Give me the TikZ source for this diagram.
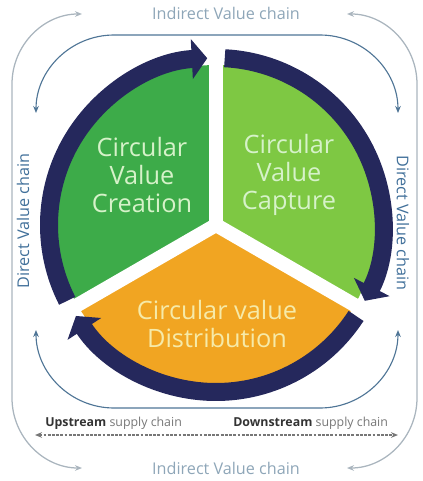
\documentclass[tikz,border=0pt]{standalone}
\usepackage{fontspec}
\setmainfont{Open Sans}
\usetikzlibrary{arrows.meta}

\definecolor{creategreen}{HTML}{3DAB49}
\definecolor{capturegreen}{HTML}{7EC843}
\definecolor{distorange}{HTML}{F1A522}
\definecolor{ringblue}{HTML}{25285C}
\definecolor{paletext}{HTML}{D6F2C9}
\definecolor{paleyellow}{HTML}{F6EAA8}
\definecolor{indirectgray}{HTML}{8EA6B8}
\definecolor{directblue}{HTML}{41709A}
\definecolor{chainline}{HTML}{4F7596}
\definecolor{framegray}{HTML}{AAB5BE}
\definecolor{supplygray}{HTML}{777777}

\begin{document}
\begin{tikzpicture}[x=0.025cm, y=0.025cm,
		ringarrow/.style={draw=ringblue, line width=12.8pt, -{Triangle[width=28pt, length=11pt]}},
		sep/.style={draw=white, line width=10pt},
		secttext/.style={text=paletext, align=center, inner sep=0, font=\fontsize{18}{20.2}\selectfont},
		indtext/.style={text=indirectgray, inner sep=0, font=\fontsize{11.5}{13}\selectfont},
		dirtext/.style={text=directblue, inner sep=0, font=\fontsize{11.5}{13}\selectfont},
		supply/.style={text=supplygray, inner sep=0, font=\fontsize{8.8}{10}\selectfont},
		chain/.style={draw=chainline, line width=0.8pt, {Stealth[length=5pt, width=4pt]}-{Stealth[length=5pt, width=4pt]}},
		frame/.style={draw=framegray, line width=0.9pt, {Stealth[length=5pt, width=4pt]}-{Stealth[length=5pt, width=4pt]}}]
	\useasboundingbox (-216,-256) rectangle (206,225);

	\fill[creategreen] (0,0) -- (90:160) arc[start angle=90, end angle=210, radius=160] -- cycle;
	\fill[capturegreen] (0,0) -- (-30:160) arc[start angle=-30, end angle=90, radius=160] -- cycle;
	\fill[distorange] (0,0) -- (210:160) arc[start angle=210, end angle=330, radius=160] -- cycle;
	\foreach \a in {90, -30, 210}{\draw[sep] (0,0) -- (\a:178);}

	\foreach \s/\e in {207/93, 87/-27, -33/-147}{\draw[ringarrow] (\s:167) arc[start angle=\s, end angle=\e, radius=167];}

	\node[secttext] (create) at (-74,50) {Circular\\Value\\Creation};
	\node[secttext] (capture) at (73,50) {Circular\\Value\\Capture};
	\node[secttext, text=paleyellow] (distribute) at (1,-99) {Circular value\\Distribution};

	\draw[chain] (-180,112) arc[start angle=180, end angle=90, radius=78] -- (104,190) arc[start angle=90, end angle=0, radius=78];
	\draw[chain] (-180,-105) arc[start angle=180, end angle=270, radius=78] -- (104,-183) arc[start angle=270, end angle=360, radius=78];
	\draw[frame] (-134,211) arc[start angle=90, end angle=180, radius=70] -- (-204,-173) arc[start angle=180, end angle=270, radius=70];
	\draw[frame] (131,211) arc[start angle=90, end angle=0, radius=70] -- (201,-173) arc[start angle=0, end angle=-90, radius=70];

	\node[indtext] (indtop) at (10,212) {Indirect Value chain};
	\node[indtext] (indbottom) at (10,-243) {Indirect Value chain};
	\node[dirtext, rotate=90] (dirleft) at (-193,4) {Direct Value chain};
	\node[dirtext, rotate=-90] (dirright) at (187,2) {Direct Value chain};

	\node[supply, anchor=west] (upstream) at (-171,-198) {\textcolor{black!80}{\textbf{Upstream}} supply chain};
	\node[supply, anchor=west] (downstream) at (17,-198) {\textcolor{black!80}{\textbf{Downstream}} supply chain};
	\coordinate (upend) at (-181,-210);
	\coordinate (downend) at (182,-210);
	\draw[draw=supplygray, line width=0.8pt, dash pattern=on 2pt off 1pt, {Stealth[length=5pt, width=4pt]}-{Stealth[length=5pt, width=4pt]}] (upend) -- (downend);
\end{tikzpicture}
\end{document}
